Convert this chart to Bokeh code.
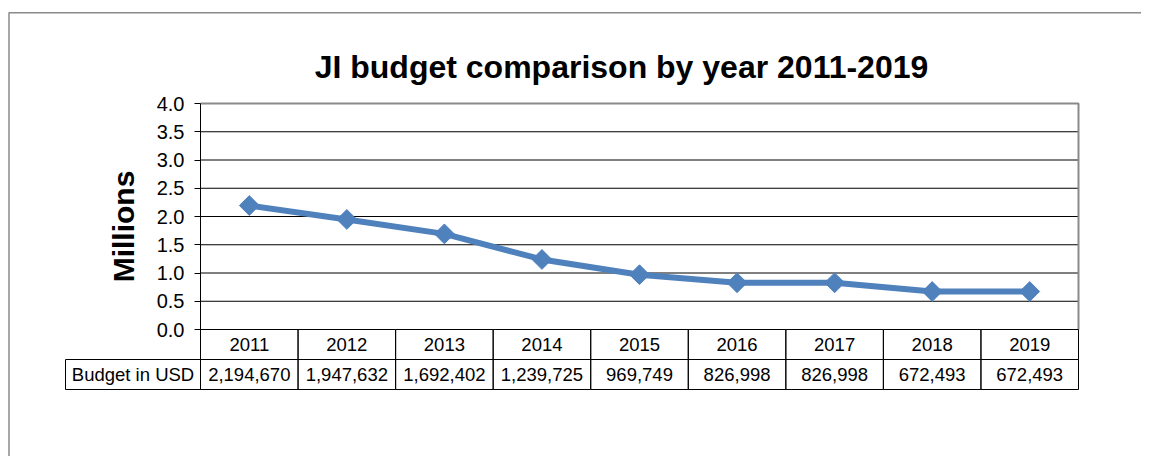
import numpy as np
from bokeh.plotting import figure
from bokeh.models import Range1d, FixedTicker, NumeralTickFormatter, LinearAxis
from bokeh.core.properties import value
from bokeh.embed import file_html
from bokeh.resources import INLINE

# ---- data ----
years = ["2011", "2012", "2013", "2014", "2015", "2016", "2017", "2018", "2019"]
budgets = [2194670, 1947632, 1692402, 1239725, 969749, 826998, 826998, 672493, 672493]
y_ticks = [0.0, 0.5, 1.0, 1.5, 2.0, 2.5, 3.0, 3.5, 4.0]
title_text = "JI budget comparison by year 2011-2019"
y_label = "Millions"
row_label = "Budget in USD"

budgets_m = [b / 1e6 for b in budgets]
budget_labels = [f"{b:,}" for b in budgets]

FONT = "Liberation Sans"
BLUE = "#4F81BD"
GRAY = "#8a8a8a"

# ---- layout geometry (canvas pixels) ----
W, H = 1141, 456
PL, PR, PT, P0 = 200, 1078, 103, 329  # plot left / right / top / zero line
ROW = 30                              # table row height
LABEL_L = 65                          # left edge of the label cell

n = len(years)
ymax = y_ticks[-1]
col_px = (PR - PL) / n
y_px = (P0 - PT) / ymax
tbl_bottom = P0 + 2 * ROW

p = figure(width=W, height=H, output_backend="svg", toolbar_location=None,
           x_range=Range1d(-PL / col_px, (W - PL) / col_px),
           y_range=Range1d(-(H - P0) / y_px, ymax + PT / y_px),
           x_axis_location=None, y_axis_location=None,
           min_border=0, min_border_left=0, min_border_right=0,
           min_border_top=0, min_border_bottom=0)
p.grid.visible = False
p.outline_line_color = None
p.extra_y_ranges = {"rows": Range1d(-(H - tbl_bottom) / ROW, tbl_bottom / ROW),
                    "cy": Range1d(H, 0)}
p.extra_x_ranges = {"cx": Range1d(0, W)}

# outer chart border (top and left)
p.line(x=[8.5, 8.5, W], y=[H, 12.3, 12.3], x_range_name="cx", y_range_name="cy",
       line_color=GRAY, line_width=1.5)

# title
p.text(x=[n / 2], y=[ymax], text=[title_text], x_offset=-18, y_offset=-37,
       text_align="center", text_baseline="alphabetic", text_font=value(FONT),
       text_font_size="32px", text_font_style="bold", text_color="black")

# y axis
yaxis = LinearAxis(fixed_location=0, bounds=(-0.35, ymax),
                   ticker=FixedTicker(ticks=y_ticks),
                   formatter=NumeralTickFormatter(format="0.0"))
yaxis.major_label_text_font = FONT
yaxis.major_label_text_font_size = "20px"
yaxis.major_label_text_color = "black"
yaxis.major_tick_in = 0
yaxis.major_tick_out = 6
yaxis.minor_tick_in = 0
yaxis.minor_tick_out = 0
yaxis.major_label_standoff = 10
yaxis.axis_line_color = "black"
yaxis.major_tick_line_color = "black"
yaxis.axis_label = y_label
yaxis.axis_label_text_font = FONT
yaxis.axis_label_text_font_size = "30px"
yaxis.axis_label_text_font_style = "bold"
yaxis.axis_label_text_color = "black"
yaxis.axis_label_standoff = 14
p.add_layout(yaxis, "left")

# horizontal grid lines and plot border
grid_y = y_ticks[1:-1]
p.segment(x0=[0] * len(grid_y), x1=[n] * len(grid_y), y0=grid_y, y1=grid_y,
          line_color="black", line_width=1)
p.line(x=[0, n, n], y=[ymax, ymax, 0], line_color=GRAY, line_width=2)

# data series
xs = [i + 0.5 for i in range(n)]
p.line(xs, budgets_m, line_color=BLUE, line_width=6, line_join="round")
p.scatter(xs, budgets_m, marker="square", angle=np.pi / 4, size=14,
          fill_color=BLUE, line_color=BLUE)

# data table under the chart
idx = list(range(n))
label_w = (PL - LABEL_L) / col_px
p.quad(left=idx, right=[i + 1 for i in idx], bottom=1, top=2, y_range_name="rows",
       fill_alpha=0, line_color="black", line_width=1)
p.quad(left=[-label_w] + idx, right=[0] + [i + 1 for i in idx], bottom=0, top=1,
       y_range_name="rows", fill_alpha=0, line_color="black", line_width=1)
p.text(x=xs, y=[1.5] * n, text=years, y_range_name="rows",
       text_align="center", text_baseline="middle", text_font=value(FONT),
       text_font_size="18.5px", text_color="black")
p.text(x=xs, y=[0.5] * n, text=budget_labels, y_range_name="rows",
       text_align="center", text_baseline="middle", text_font=value(FONT),
       text_font_size="18.5px", text_color="black")
p.text(x=[-label_w / 2], y=[0.5], text=[row_label], y_range_name="rows",
       text_align="center", text_baseline="middle", text_font=value(FONT),
       text_font_size="18.5px", text_color="black")

open("out.html", "w").write(file_html(p, INLINE))
